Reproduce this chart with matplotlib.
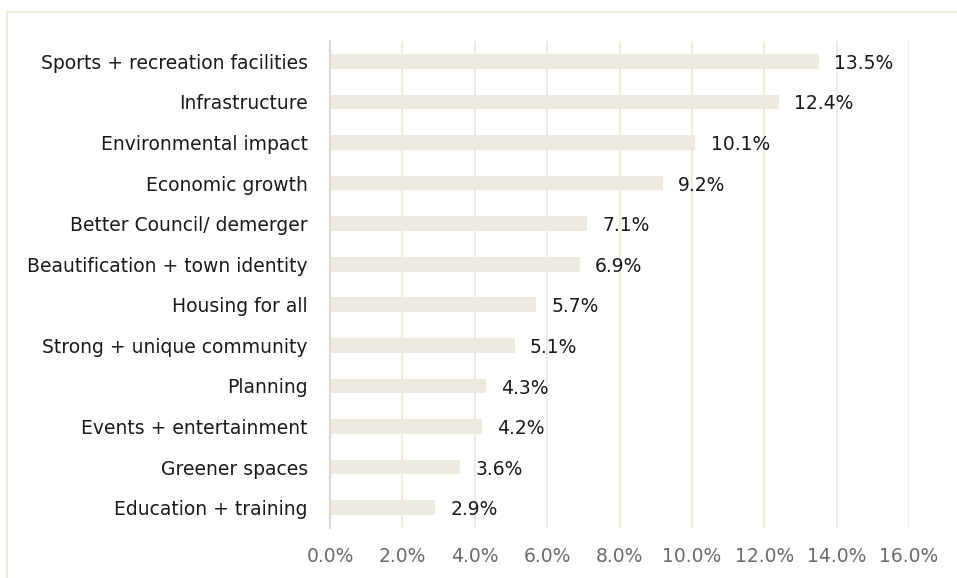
import numpy as np
import matplotlib
matplotlib.use("Agg")
import matplotlib.pyplot as plt
from matplotlib.patches import Rectangle

categories = ["Sports + recreation facilities", "Infrastructure", "Environmental impact",
              "Economic growth", "Better Council/ demerger", "Beautification + town identity",
              "Housing for all", "Strong + unique community", "Planning",
              "Events + entertainment", "Greener spaces", "Education + training"]
values = [13.5, 12.4, 10.1, 9.2, 7.1, 6.9, 5.7, 5.1, 4.3, 4.2, 3.6, 2.9]
xticks = [0, 2, 4, 6, 8, 10, 12, 14, 16]

plt.rcParams['font.family'] = ['DejaVu Sans']

barColor = "#EDEAE0"
gridColor = "#EEEBE1"
fs = 13.5

fig = plt.figure(figsize=(9.57, 5.78), dpi=100)
ax = fig.add_axes([330 / 957, 1 - 528 / 578, 579 / 957, 487 / 578])

# light frame around the chart, runs off the right and bottom edge
fig.patches.append(Rectangle((7 / 957, -0.1), 1.2, 1 - 12 / 578 + 0.1,
                             transform=fig.transFigure, fill=False,
                             edgecolor=gridColor, linewidth=1.5))

y = np.arange(len(categories))
ax.barh(y, values, height=0.36, color=barColor, zorder=2)
for i, v in enumerate(values):
    ax.annotate(f"{v:.1f}%", (v, i), xytext=(11, -1.5), textcoords="offset points",
                va="center", ha="left", fontsize=fs, color="#1a1a1a")

ax.set_xlim(0, 16)
ax.set_ylim(len(categories) - 0.5, -0.5)
ax.set_yticks(y)
ax.set_yticklabels(categories, fontsize=fs, color="#1a1a1a")
ax.set_xticks(xticks)
ax.set_xticklabels([f"{t:.1f}%" for t in xticks], fontsize=fs, color="#6b6b6b")
ax.tick_params(axis="y", length=0, pad=16)
ax.tick_params(axis="x", length=0, pad=14)
ax.grid(axis="x", color=gridColor, linewidth=1.5, zorder=0)
ax.set_axisbelow(True)
for s in ["top", "right", "bottom"]:
    ax.spines[s].set_visible(False)
ax.spines["left"].set_color("#D9D9D9")
ax.spines["left"].set_linewidth(1.5)

plt.savefig("out.png", dpi=100)
